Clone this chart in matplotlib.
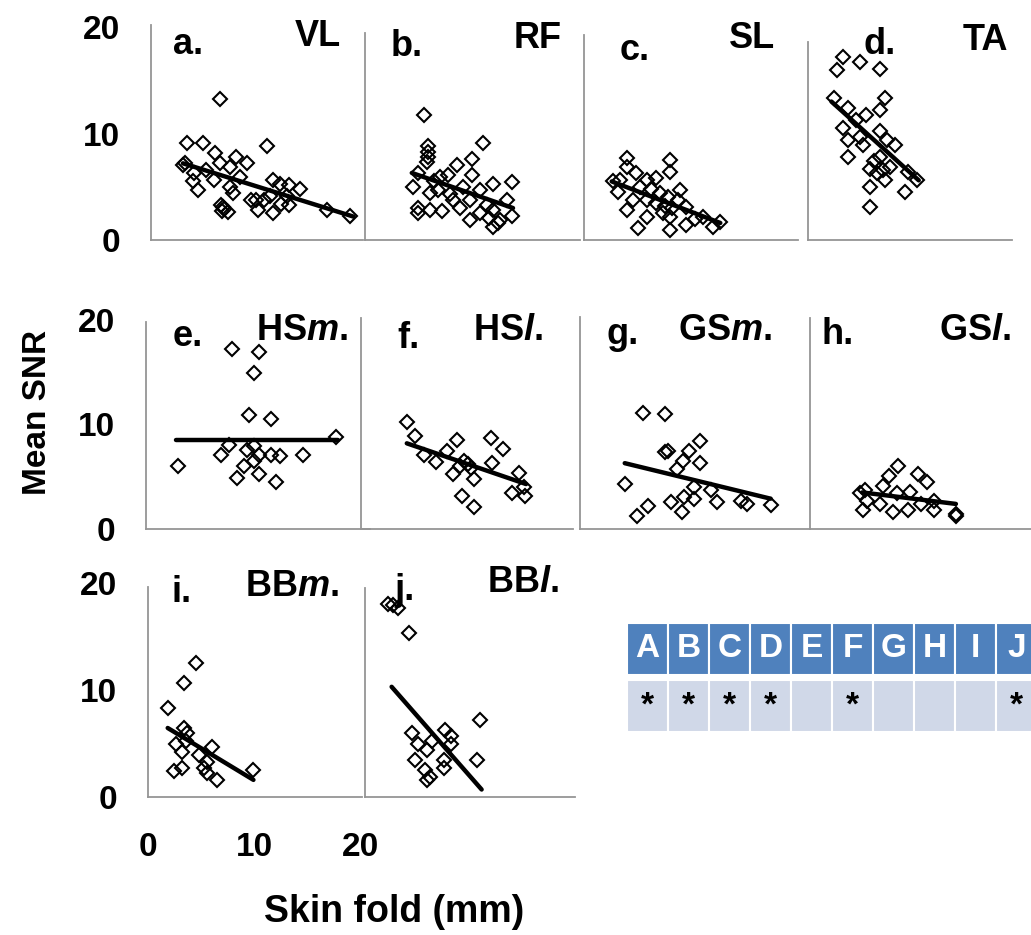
import matplotlib
matplotlib.use("Agg")
import matplotlib.pyplot as plt
from matplotlib.patches import Rectangle

W, H = 1031, 935
XSCALE = 10.65  # px per mm on every panel

plt.rcParams["font.family"] = ["Liberation Sans", "DejaVu Sans"]
plt.rcParams["font.weight"] = "bold"
plt.rcParams["mathtext.fontset"] = "custom"
plt.rcParams["mathtext.it"] = "Liberation Sans:italic:bold"
plt.rcParams["mathtext.rm"] = "Liberation Sans:bold"

# ---- data (skin fold mm, mean SNR) ----
vl_x = [6.5, 3.35, 4.9, 6.0, 10.9, 3.2, 4.0, 4.4, 3.9, 5.9, 6.5, 8.0, 9.0, 7.4, 8.4, 7.4, 7.7, 6.8,
        6.7, 7.2, 9.9, 10.0, 11.5, 11.5, 12.1, 13.0, 14.0, 13.0, 12.2, 11.2, 12.8, 16.5, 18.7, 10.6,
        9.4, 6.6, 6.9, 3.0, 5.2]
vl_y = [13.2, 9.1, 9.1, 8.2, 8.8, 7.2, 6.3, 4.7, 5.5, 5.6, 7.2, 7.8, 7.2, 6.9, 5.9, 5.0, 4.4, 3.1,
        2.7, 2.6, 3.8, 2.8, 2.5, 5.6, 5.3, 5.2, 4.8, 3.3, 3.4, 4.1, 4.1, 2.8, 2.25, 3.8,
        3.8, 3.3, 2.9, 7.0, 6.6]
vl_trend_x, vl_trend_y = [3.0, 19.0], [7.2, 2.2]

rf_x = [5.5, 11.1, 5.9, 5.9, 5.9, 10.0, 8.6, 10.0, 4.5, 5.0, 7.0, 7.8, 6.9, 6.1, 5.0, 5.0, 6.1, 7.2,
        8.3, 8.9, 9.9, 9.9, 10.8, 10.8, 12.0, 13.8, 13.3, 12.0, 12.0, 12.7, 13.8, 11.6, 9.2,
        5.8, 6.5, 8.0, 11.5, 12.5]
rf_y = [11.7, 9.1, 8.8, 8.3, 7.8, 7.6, 7.0, 6.1, 5.0, 6.3, 5.9, 6.1, 4.7, 4.4, 3.0, 2.5, 2.8, 2.7,
        3.8, 3.0, 3.8, 1.9, 4.7, 2.5, 5.3, 5.4, 3.8, 2.8, 1.25, 1.9, 2.3, 2.1, 5.0,
        7.3, 5.5, 4.3, 3.3, 1.6]
rf_trend_x, rf_trend_y = [4.4, 13.9], [6.3, 3.0]

sl_x = [4.0, 4.0, 8.1, 8.1, 2.75, 3.2, 4.9, 5.9, 6.8, 4.0, 5.1, 5.9, 4.6, 7.1, 8.1, 8.1, 9.0, 9.6,
        9.6, 11.2, 12.1, 12.8, 8.8, 6.8, 7.4, 5.9, 3.4, 7.6, 8.3, 6.3, 7.9, 10.4, 5.3]
sl_y = [7.7, 6.9, 7.5, 6.4, 5.5, 4.5, 6.3, 5.6, 5.8, 2.8, 1.1, 3.8, 3.8, 4.4, 2.2, 0.9, 4.7, 3.1,
        1.4, 2.2, 1.25, 1.7, 3.8, 3.5, 2.5, 2.2, 5.6, 3.2, 3.0, 4.8, 4.0, 2.0, 5.0]
sl_trend_x, sl_trend_y = [2.6, 12.8], [5.5, 1.6]

ta_x = [3.3, 4.9, 2.7, 6.8, 2.4, 7.2, 6.8, 3.8, 5.4, 4.5, 3.3, 6.8, 3.8, 5.2, 7.4, 8.2, 3.8, 6.8,
        5.8, 7.7, 9.4, 10.2, 7.2, 5.8, 9.1, 5.8, 6.45, 4.9, 6.2, 7.0]
ta_y = [17.2, 16.7, 16.0, 16.1, 13.3, 13.3, 12.2, 12.4, 11.7, 11.3, 10.5, 10.2, 9.4, 8.9, 9.4, 8.9,
        7.8, 7.8, 6.7, 6.9, 6.4, 5.6, 5.6, 5.0, 4.5, 3.1, 6.3, 9.7, 7.4, 6.6]
ta_trend_x, ta_trend_y = [2.2, 10.4], [13.0, 5.6]

hsm_x = [8.1, 10.6, 10.1, 9.65, 11.7, 17.8, 3.05, 7.0, 7.8, 8.55, 9.2, 9.5, 10.1, 10.6, 10.6,
         11.7, 12.2, 12.6, 14.7, 10.1]
hsm_y = [17.2, 16.9, 14.9, 10.9, 10.5, 8.8, 6.0, 7.1, 8.0, 4.9, 6.0, 7.6, 6.5, 5.25, 7.1,
         7.1, 4.5, 7.0, 7.1, 7.9]
hsm_trend_x, hsm_trend_y = [2.8, 18.0], [8.5, 8.5]

hsl_x = [4.3, 5.1, 5.9, 7.0, 8.1, 9.0, 8.6, 9.65, 10.0, 10.6, 9.5, 10.6, 12.2, 13.3, 12.3, 14.8,
         14.2, 15.3, 15.4, 9.3, 10.3]
hsl_y = [10.2, 8.9, 7.1, 6.4, 7.45, 8.55, 5.3, 6.5, 6.2, 4.8, 3.2, 2.1, 8.7, 7.7, 6.35, 5.4,
         3.4, 4.0, 3.2, 6.0, 5.8]
hsl_trend_x, hsl_trend_y = [4.3, 15.5], [8.2, 4.3]

gsm_x = [5.9, 8.0, 11.3, 8.3, 8.0, 10.2, 9.7, 11.3, 9.1, 4.2, 10.7, 12.3, 6.4, 5.35, 8.5, 9.6,
         9.8, 10.7, 12.9, 15.1, 15.7, 17.9]
gsm_y = [11.1, 11.0, 8.4, 7.5, 7.4, 7.5, 6.5, 6.3, 5.7, 4.3, 4.0, 3.7, 2.2, 1.2, 2.6, 1.6,
         3.05, 2.9, 2.6, 2.7, 2.4, 2.25]
gsm_trend_x, gsm_trend_y = [4.2, 17.9], [6.3, 2.9]

gsl_x = [8.3, 7.4, 10.1, 11.0, 6.9, 5.2, 8.2, 9.4, 5.35, 6.6, 5.0, 7.8, 9.2, 10.4, 11.6, 11.6,
         13.7, 13.7, 4.7]
gsl_y = [6.0, 5.1, 5.25, 4.5, 4.15, 3.7, 3.4, 3.5, 2.7, 2.4, 1.8, 1.6, 1.8, 2.4, 2.7, 1.8,
         1.2, 1.4, 3.4]
gsl_trend_x, gsl_trend_y = [4.9, 13.7], [3.5, 2.4]

bbm_x = [4.5, 3.4, 1.85, 3.4, 2.6, 3.2, 3.6, 4.8, 6.0, 5.5, 2.45, 3.2, 5.3, 5.5, 6.5, 9.9, 3.7]
bbm_y = [12.55, 10.7, 8.3, 6.45, 5.0, 4.25, 5.2, 3.9, 4.7, 3.3, 2.4, 2.7, 2.7, 2.2, 1.6, 2.5, 6.0]
bbm_trend_x, bbm_trend_y = [1.85, 9.9], [6.45, 1.6]

bbl_x = [2.2, 3.1, 2.6, 4.1, 10.8, 4.4, 7.5, 8.1, 5.0, 8.1, 6.3, 5.8, 4.7, 7.4, 10.5, 7.4, 5.6,
         5.8, 6.1]
bbl_y = [18.0, 17.7, 17.9, 15.3, 7.2, 6.0, 6.3, 5.7, 5.0, 5.0, 5.2, 4.4, 3.5, 3.5, 3.5, 2.7, 2.5,
         1.6, 1.9]
bbl_trend_x, bbl_trend_y = [2.5, 10.95], [10.3, 0.7]

table_cols = ["A", "B", "C", "D", "E", "F", "G", "H", "I", "J"]
table_sig = ["*", "*", "*", "*", "", "*", "", "", "", "*"]

# letter, muscle, data, trend, box (left, top, right, bottom px), px per SNR unit,
# letter centre px, muscle centre px
panels = [
    ("a.", "VL", vl_x, vl_y, vl_trend_x, vl_trend_y, (151, 25, 363, 240), 10.65, (188, 45), (318, 37)),
    ("b.", "RF", rf_x, rf_y, rf_trend_x, rf_trend_y, (365, 33, 580, 240), 10.65, (407, 47), (538, 38)),
    ("c.", "SL", sl_x, sl_y, sl_trend_x, sl_trend_y, (584, 35, 798, 240), 10.65, (635, 50), (752, 38)),
    ("d.", "TA", ta_x, ta_y, ta_trend_x, ta_trend_y, (808, 42, 1012, 240), 10.65, (880, 45), (985, 40)),
    ("e.", r"HS$\mathit{m}$.", hsm_x, hsm_y, hsm_trend_x, hsm_trend_y, (146, 322, 370, 529), 10.45, (188, 337), (302, 330)),
    ("f.", r"HS$\mathit{l}$.", hsl_x, hsl_y, hsl_trend_x, hsl_trend_y, (361, 318, 573, 529), 10.45, (408, 338), (508, 330)),
    ("g.", r"GS$\mathit{m}$.", gsm_x, gsm_y, gsm_trend_x, gsm_trend_y, (580, 317, 810, 529), 10.45, (623, 335), (725, 330)),
    ("h.", r"GS$\mathit{l}$.", gsl_x, gsl_y, gsl_trend_x, gsl_trend_y, (810, 318, 1031, 529), 10.45, (838, 335), (975, 330)),
    ("i.", r"BB$\mathit{m}$.", bbm_x, bbm_y, bbm_trend_x, bbm_trend_y, (148, 587, 362, 797), 10.7, (182, 592), (292, 587)),
    ("j.", r"BB$\mathit{l}$.", bbl_x, bbl_y, bbl_trend_x, bbl_trend_y, (365, 588, 575, 797), 10.7, (405, 590), (523, 583)),
]

fig = plt.figure(figsize=(W / 100, H / 100), dpi=100)


def fpos(x, y):
    return x / W, 1 - y / H


for i, (letter, muscle, xs, ys, tx, ty, box, ysc, lpos, mpos) in enumerate(panels):
    left, top, right, bottom = box
    ax = fig.add_axes([left / W, 1 - bottom / H, (right - left) / W, 20 * ysc / H])
    ax.set_xlim(0, (right - left) / XSCALE)
    ax.set_ylim(0, 20)
    ax.patch.set_alpha(0)
    for s in ("top", "right"):
        ax.spines[s].set_visible(False)
    for s in ("left", "bottom"):
        ax.spines[s].set_color("#959595")
        ax.spines[s].set_linewidth(1.3)
    ax.spines["left"].set_bounds(0, (bottom - top) / ysc)
    ax.plot(xs, ys, ls="none", marker="D", ms=7.6, mfc="none", mec="black", mew=1.5,
            clip_on=False, zorder=2)
    ax.plot(tx, ty, color="black", lw=3.2, solid_capstyle="round", zorder=3)
    ax.tick_params(axis="y", length=0, labelsize=24, pad=22)
    ax.tick_params(axis="x", length=0, labelsize=24, pad=25)
    if i in (0, 4, 8):
        ax.set_yticks([0, 10, 20])
    else:
        ax.set_yticks([])
    if i == 8:
        ax.set_xticks([0, 10, 20])
    else:
        ax.set_xticks([])
    fig.text(*fpos(*lpos), letter, fontsize=26, ha="center", va="center")
    fig.text(*fpos(*mpos), muscle, fontsize=26, ha="center", va="center")

fig.text(*fpos(38, 412), "Mean SNR", fontsize=24, rotation=90, ha="center", va="center")
fig.text(*fpos(394, 912), "Skin fold (mm)", fontsize=27, ha="center", va="center")

# significance table
ax_t = fig.add_axes([627 / W, 1 - 732 / H, 410 / W, 109 / H])
ax_t.set_xlim(0, 10)
ax_t.set_ylim(2.1, 0)
ax_t.axis("off")
for i, (lab, sig) in enumerate(zip(table_cols, table_sig)):
    ax_t.add_patch(Rectangle((i, 0), 1, 1, fc="#4f81bd", ec="white", lw=1.5, clip_on=False))
    ax_t.add_patch(Rectangle((i, 1.1), 1, 1, fc="#d0d8e8", ec="white", lw=1.5, clip_on=False))
    ax_t.text(i + 0.5, 0.5, lab, color="white", fontsize=24, ha="center", va="center")
    ax_t.text(i + 0.5, 1.6, sig, color="black", fontsize=24, ha="center", va="center")

fig.savefig("out.png", dpi=100)
